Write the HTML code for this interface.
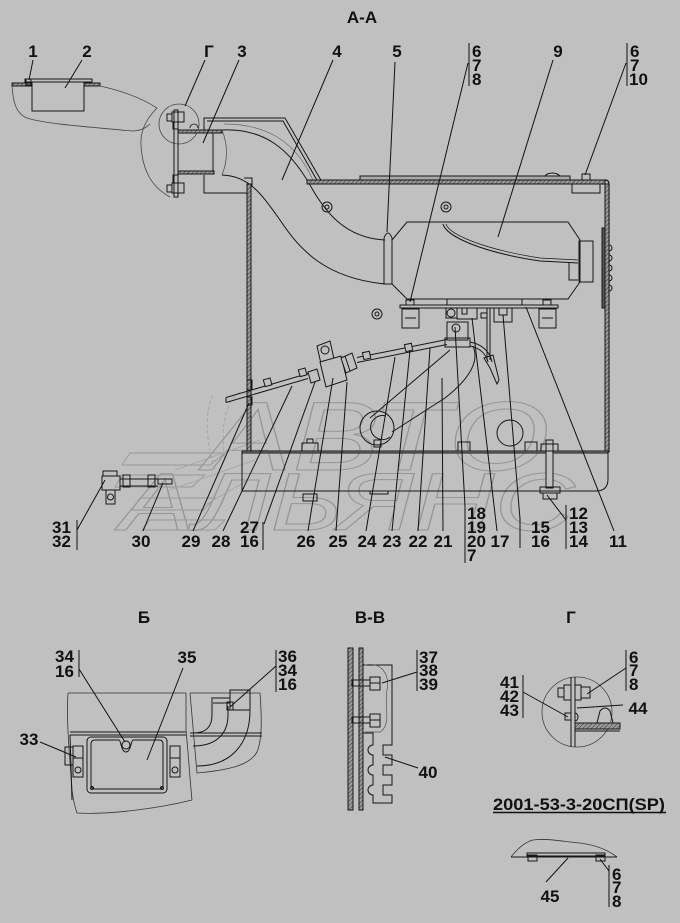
<!DOCTYPE html>
<html><head><meta charset="utf-8"><style>
html,body{margin:0;padding:0;background:#c0c0c0;}
svg{display:block}
</style></head><body>
<svg width="680" height="923" viewBox="0 0 680 923" xmlns="http://www.w3.org/2000/svg">
<defs>
<pattern id="h" width="3" height="3" patternUnits="userSpaceOnUse" patternTransform="rotate(45)"><rect width="3" height="3" fill="#9a9a9a"/><line x1="0" y1="0" x2="0" y2="3" stroke="#333" stroke-width="1"/></pattern>
</defs>
<rect width="680" height="923" fill="#c0c0c0"/>

<!-- watermark -->
<g fill="none" stroke="#959595" stroke-width="1" font-family="Liberation Sans, Arial, sans-serif" font-style="italic">
<text x="205" y="470" font-size="98" textLength="345" lengthAdjust="spacingAndGlyphs">АВТО</text>
<text x="120" y="530" font-size="82" textLength="455" lengthAdjust="spacingAndGlyphs">АЛЬЯНС</text>
</g>
<g fill="none" stroke="#999" stroke-width="0.9">
<path d="M130,453 H225 L210,465 H122 Z"/>
<path d="M122,475 H205 L192,487 H115 Z"/>
<path d="M140,498 H215 L203,510 H132 Z"/>
<path d="M150,520 H225 L215,530 H142 Z"/>
<path d="M175,470 L260,440 M170,490 L255,460 M205,505 L248,480" stroke="#a5a5a5"/>
<path d="M213,395 C205,410 205,440 215,470 M240,392 C225,400 220,430 225,460" stroke="#a5a5a5" stroke-dasharray="4,2"/>
</g>

<!-- ===== MAIN VIEW A-A ===== -->
<g fill="none" stroke="#161616" stroke-width="1">
<!-- top-left roof part 1/2 -->
<rect x="12" y="83" width="20" height="3" fill="url(#h)"/>
<rect x="84" y="83" width="16" height="3" fill="url(#h)"/>
<rect x="25" y="79" width="67" height="3"/>
<rect x="32" y="82" width="52" height="29"/>
<rect x="26" y="79" width="5" height="6"/>
<path d="M12,86 C13,100 15,113 27,118 C45,124 90,127 132,131 C140,131 146,128 150,124" stroke="#444" stroke-width="0.8"/>
<path d="M100,86 C118,90 140,97 157,108" stroke="#444" stroke-width="0.8"/>
<path d="M157,108 C147,118 140,130 141,145 C142,165 148,185 170,197" stroke="#444" stroke-width="0.8"/>
<circle cx="179" cy="124" r="20" stroke="#444" stroke-width="0.8"/>

<!-- flange -->
<rect x="174" y="110" width="4" height="87"/>
<rect x="167" y="114" width="5" height="7"/>
<rect x="172" y="112" width="12" height="10"/>
<rect x="173" y="122" width="5" height="7"/>
<rect x="173" y="175" width="5" height="8"/>
<rect x="172" y="183" width="12" height="10"/>
<rect x="167" y="185" width="5" height="7"/>
<path d="M190,128 a4,4 0 0 1 8,0" stroke-width="0.8"/>

<!-- pipe 3 -->
<rect x="178" y="130" width="44" height="3" fill="url(#h)"/>
<rect x="178" y="171" width="36" height="3" fill="url(#h)"/>
<line x1="213" y1="133" x2="213" y2="172"/>
<path d="M222,130 C228,145 228,160 222,175" stroke="#555" stroke-width="0.8"/>

<!-- heat shield -->
<path d="M204,130 V118 H285 L322,182"/>
<path d="M207,121 H283 L318,182"/>
<path d="M224,124 C265,124 295,140 313,180" stroke="#666" stroke-width="0.7"/>
<path d="M204,175 V193 H248"/>

<!-- duct 4 -->
<path d="M222,130 C265,128 290,150 310,185 C325,212 345,238 385,240"/>
<path d="M222,175 C250,176 262,195 280,220 C300,250 325,278 385,284"/>

<!-- tank walls -->
<rect x="247" y="184" width="4" height="268" fill="url(#h)"/>
<path d="M244,178 H252 V186"/>
<rect x="307" y="180" width="298" height="4" fill="url(#h)"/>
<path d="M605,180 Q609,180 609,184 V452" stroke-width="1.2"/>
<rect x="605" y="184" width="4" height="268" fill="url(#h)"/>
<rect x="360" y="176" width="210" height="4" fill="#aaa"/>
<path d="M545,176 C548,172 556,172 560,176"/>
<rect x="582" y="174" width="8" height="6"/>
<rect x="572" y="184" width="28" height="9"/>
<rect x="602" y="228" width="3" height="80" fill="#555"/>
<path d="M609,245 a3,3 0 0 1 0,6 M609,255 a3,3 0 0 1 0,6 M609,265 a3,3 0 0 1 0,6 M609,275 a3,3 0 0 1 0,6 M609,285 a3,3 0 0 1 0,6"/>

<!-- bolt circles -->
<circle cx="327" cy="207" r="5"/><circle cx="327" cy="207" r="2"/>
<circle cx="446" cy="207" r="5"/><circle cx="446" cy="207" r="2"/>
<circle cx="377" cy="314" r="5"/><circle cx="377" cy="314" r="2"/>

<!-- clamp 5 -->
<path d="M384,284 V238 Q388,228 392,238 V284 Z"/>

<!-- heater 9 -->
<path d="M392,240 L407,222 H568 L580,240 V282 L568,299 H407 L392,284"/>
<rect x="579" y="241" width="14" height="41"/>
<path d="M569,262 V280 H578"/>
<path d="M443,224 C446,236 480,252 540,261 L578,263"/>
<path d="M446,224 C449,234 482,249 540,258 L578,260" stroke-width="0.7"/>
<line x1="447" y1="299" x2="447" y2="305"/><line x1="522" y1="299" x2="522" y2="305"/>

<!-- mount plate & feet -->
<rect x="400" y="305" width="158" height="3"/>
<rect x="406" y="300" width="8" height="5"/>
<rect x="543" y="300" width="8" height="5"/>
<rect x="402" y="309" width="17" height="19"/><line x1="405" y1="318" x2="416" y2="318"/>
<rect x="539" y="309" width="17" height="19"/><line x1="542" y1="318" x2="553" y2="318"/>

<!-- bracket under plate -->
<rect x="446" y="308" width="11" height="10"/><circle cx="451" cy="313" r="4"/>
<rect x="457" y="308" width="20" height="11"/>
<rect x="462" y="308" width="5" height="6"/>
<rect x="481" y="313" width="6" height="5"/>
<line x1="487" y1="308" x2="487" y2="360"/><line x1="490" y1="308" x2="490" y2="360"/>
<rect x="494" y="308" width="18" height="14"/>
<rect x="499" y="308" width="8" height="7"/>
<polygon points="484,358 493,355 499,380 497,384 490,368"/>

<!-- regulator bracket block -->
<rect x="447" y="322" width="21" height="18"/>
<circle cx="456" cy="328" r="4"/>
<rect x="445" y="338" width="25" height="9"/>

<!-- hose -->
<line x1="226" y1="397.5" x2="308" y2="373.5"/>
<line x1="226" y1="402.5" x2="308" y2="378.5"/>
<line x1="226" y1="397.5" x2="226" y2="402.5"/>
<line x1="357" y1="357.5" x2="447" y2="339.5"/>
<line x1="357" y1="362.5" x2="447" y2="344.5"/>
<g fill="#c0c0c0">
<rect x="264" y="379" width="7" height="7" transform="rotate(-16 267 382)"/>
<rect x="299" y="369" width="7" height="7" transform="rotate(-16 302 372)"/>
<rect x="363" y="352" width="7" height="7" transform="rotate(-12 366 355)"/>
<rect x="405" y="344" width="7" height="7" transform="rotate(-12 408 347)"/>
</g>
<rect x="247" y="380" width="5" height="10"/>
<rect x="247" y="397" width="5" height="8"/>

<!-- regulator -->
<polygon points="308,372 317,369 320,380 311,383" fill="#c0c0c0"/>
<polygon points="317,346 330,341 339,381 326,386" fill="#c0c0c0"/>
<circle cx="325" cy="350" r="4"/>
<polygon points="320,362 341,356 347,380 326,387" fill="#c0c0c0"/>
<polygon points="341,358 352,353 357,368 346,373" fill="#c0c0c0"/>
<line x1="345" y1="356" x2="350" y2="371"/>

<!-- sensor hose right -->
<path d="M470,342 C482,344 490,352 492,362"/>
<path d="M470,346 C480,348 486,354 488,362"/>

<!-- loop pipe 21 -->
<path d="M450,350 L370,418"/>
<path d="M473,346 C480,362 468,380 445,398 L392,432"/>
<circle cx="377" cy="428" r="17"/>
<path d="M386,416 A12,12 0 1 0 390,437"/>
<rect x="374" y="440" width="7" height="7"/>
<circle cx="510" cy="433" r="13"/>

<!-- tank inner bottom -->
<rect x="302" y="443" width="16" height="9"/><rect x="307" y="439" width="6" height="4"/>
<rect x="458" y="442" width="12" height="10"/>
<rect x="525" y="442" width="12" height="10"/>

<!-- base -->
<rect x="242" y="451" width="366" height="2" fill="#888"/>
<path d="M242,453 V491 H596 Q608,491 608,479 V453"/>
<rect x="546" y="440" width="7" height="48" fill="#c0c0c0"/>
<rect x="541" y="444" width="17" height="7"/>
<rect x="540" y="487" width="20" height="6"/>
<rect x="543" y="493" width="14" height="6"/>
<rect x="303" y="494" width="14" height="7"/>
<rect x="370" y="491" width="18" height="3"/>

<!-- left fitting 31/32 -->
<rect x="103" y="471" width="14" height="5"/>
<rect x="102" y="476" width="18" height="14"/>
<rect x="106" y="490" width="9" height="14"/>
<circle cx="110.5" cy="497" r="3"/>
<line x1="120" y1="479" x2="158" y2="479"/>
<line x1="120" y1="486" x2="158" y2="486"/>
<rect x="123" y="475" width="7" height="12"/>
<rect x="148" y="475" width="7" height="12"/>
<rect x="158" y="479" width="14" height="5"/>
</g>

<!-- leaders main -->
<g stroke="#111" stroke-width="1" fill="none">
<line x1="33" y1="60" x2="29" y2="80"/>
<line x1="82" y1="60" x2="65" y2="88"/>
<line x1="205" y1="60" x2="185" y2="106"/>
<line x1="239" y1="60" x2="203" y2="143"/>
<line x1="333" y1="60" x2="282" y2="180"/>
<line x1="395" y1="62" x2="387" y2="232"/>
<line x1="469" y1="43" x2="469" y2="86"/>
<line x1="468" y1="63" x2="410" y2="302"/>
<line x1="553" y1="60" x2="498" y2="237"/>
<line x1="627" y1="43" x2="627" y2="86"/>
<line x1="626" y1="63" x2="585" y2="175"/>

<line x1="77" y1="520" x2="77" y2="550"/>
<line x1="77" y1="530" x2="105" y2="480"/>
<line x1="143" y1="531" x2="163" y2="483"/>
<line x1="193" y1="531" x2="249" y2="403"/>
<line x1="223" y1="531" x2="292" y2="386"/>
<line x1="263" y1="522" x2="263" y2="550"/>
<line x1="264" y1="524" x2="315" y2="382"/>
<line x1="308" y1="531" x2="333" y2="378"/>
<line x1="336" y1="531" x2="347" y2="382"/>
<line x1="366" y1="531" x2="395" y2="357"/>
<line x1="392" y1="531" x2="410" y2="350"/>
<line x1="418" y1="531" x2="430" y2="348"/>
<line x1="443" y1="531" x2="442" y2="378"/>
<line x1="465" y1="505" x2="465" y2="563"/>
<line x1="465" y1="506" x2="455" y2="327"/>
<line x1="497" y1="531" x2="472" y2="318"/>
<line x1="520" y1="517" x2="520" y2="548"/>
<line x1="520" y1="519" x2="503" y2="315"/>
<line x1="566" y1="505" x2="566" y2="549"/>
<line x1="566" y1="520" x2="547" y2="495"/>
<line x1="614" y1="531" x2="526" y2="307"/>
</g>

<!-- ===== VIEW Б ===== -->
<g fill="none" stroke="#161616" stroke-width="1">
<path d="M68,693 H186 M68,693 C66,720 70,760 72,790 C74,805 77,813 77,813 C110,815 160,808 192,800 M186,693 V730 C188,750 190,780 192,800" stroke="#333" stroke-width="0.8"/>
<path d="M190,693 H260 C262,720 262,740 257,752 C250,765 230,770 197,773 L190,693" stroke="#333" stroke-width="0.8"/>
<line x1="70" y1="732" x2="186" y2="732"/><line x1="70" y1="735" x2="186" y2="735"/>
<line x1="190" y1="733" x2="262" y2="733"/><line x1="190" y1="736" x2="262" y2="736"/>
<line x1="70" y1="735" x2="72" y2="800"/>
<rect x="87" y="737" width="80" height="56" rx="4"/>
<path d="M95,740 H119 C121,740 121,752 126,752 C131,752 131,740 133,740 H159 Q163,740 163,744 V785 Q163,789 159,789 H95 Q91,789 91,785 V744 Q91,740 95,740 Z"/>
<circle cx="126" cy="745" r="4"/>
<circle cx="92" cy="788" r="1.5"/><circle cx="162" cy="788" r="1.5"/>
<rect x="65" y="747" width="8" height="18"/>
<rect x="73" y="746" width="10" height="12"/>
<rect x="73" y="758" width="10" height="19"/><circle cx="78" cy="770" r="3"/>
<rect x="170" y="746" width="10" height="12"/>
<rect x="170" y="758" width="10" height="19"/><circle cx="175" cy="770" r="3"/>
<path d="M193,733 C205,733 212,728 212,715 V697"/>
<path d="M193,746 C215,746 228,735 228,715 V706"/>
<path d="M197,766 C230,766 250,745 250,710"/>
<line x1="213" y1="698" x2="230" y2="698"/><line x1="213" y1="703" x2="230" y2="703"/>
<rect x="230" y="690" width="20" height="20"/>
<rect x="227" y="702" width="6" height="8"/>
</g>
<g stroke="#111" stroke-width="1">
<line x1="79" y1="650" x2="79" y2="677"/>
<line x1="79" y1="669" x2="125" y2="742"/>
<line x1="183" y1="668" x2="147" y2="760"/>
<line x1="40" y1="742" x2="76" y2="757"/>
<line x1="276" y1="650" x2="276" y2="692"/>
<line x1="276" y1="666" x2="230" y2="707"/>
</g>

<!-- ===== VIEW В-В ===== -->
<g fill="none" stroke="#161616" stroke-width="1">
<rect x="348" y="648" width="5" height="162" fill="url(#h)"/>
<rect x="359" y="648" width="4" height="162" fill="url(#h)"/>
<path d="M363,665 H392 V745 H383 V755 H392 V765 H383 V775 H392 V785 H383 V795 H392 V803 H373 V795 A5,5 0 1 1 373,785 V775 A5,5 0 1 1 373,765 V755 A5,5 0 1 1 373,745 V733 H363"/>
<path d="M365,665 C380,662 390,672 387,690 C384,705 392,725 380,732 L365,732" stroke="#555" stroke-width="0.7"/>
<rect x="352" y="680" width="18" height="6"/>
<rect x="370" y="677" width="10" height="13"/>
<line x1="370" y1="683" x2="380" y2="683"/>
<rect x="352" y="717" width="18" height="6"/>
<rect x="370" y="714" width="10" height="13"/>
<line x1="370" y1="720" x2="380" y2="720"/>
</g>
<g stroke="#111" stroke-width="1">
<line x1="417" y1="650" x2="417" y2="691"/>
<line x1="417" y1="672" x2="382" y2="683"/>
<line x1="418" y1="768" x2="385" y2="757"/>
</g>

<!-- ===== DETAIL Г ===== -->
<g fill="none" stroke="#161616" stroke-width="1">
<circle cx="577" cy="712" r="35" stroke="#444" stroke-width="0.8"/>
<line x1="571" y1="677" x2="571" y2="747"/>
<line x1="575" y1="677" x2="575" y2="747"/>
<rect x="575" y="723" width="45" height="6" fill="url(#h)"/>
<line x1="575" y1="731" x2="620" y2="731"/>
<rect x="558" y="688" width="6" height="9"/>
<rect x="564" y="685" width="7" height="15"/>
<rect x="575" y="685" width="6" height="15"/>
<rect x="581" y="687" width="9" height="11"/>
<rect x="565" y="713" width="6" height="7"/>
<path d="M575,713 a3,4 0 0 1 0,8"/>
<path d="M597,723 L600,711 Q605,705 610,711 L613,723"/>
</g>
<g stroke="#111" stroke-width="1">
<line x1="626" y1="650" x2="626" y2="691"/>
<line x1="626" y1="668" x2="587" y2="694"/>
<line x1="523" y1="675" x2="523" y2="718"/>
<line x1="523" y1="692" x2="568" y2="717"/>
<line x1="623" y1="705" x2="577" y2="708"/>
</g>

<!-- ===== PART 45 ===== -->
<g fill="none" stroke="#161616" stroke-width="1">
<path d="M511,857 C518,848 525,842 533,840 C550,838 565,842 580,843 C595,845 608,850 617,857" stroke="#333" stroke-width="0.8"/>
<line x1="511" y1="857" x2="617" y2="857"/>
<rect x="527" y="853" width="78" height="3"/>
<rect x="528" y="855" width="9" height="6"/>
<rect x="596" y="855" width="9" height="6"/>
</g>
<g stroke="#111" stroke-width="1">
<line x1="546" y1="882" x2="568" y2="858"/>
<line x1="609" y1="865" x2="609" y2="907"/>
<line x1="609" y1="871" x2="600" y2="859"/>
</g>
<line x1="493" y1="812.5" x2="666" y2="812.5" stroke="#111" stroke-width="1.5"/>

<!-- ===== TEXT ===== -->
<g font-family="Liberation Sans, Arial, sans-serif" font-weight="bold" font-size="17" fill="#111">
<text x="362" y="23" text-anchor="middle">А-А</text>
<text x="33" y="57" text-anchor="middle">1</text>
<text x="87" y="57" text-anchor="middle">2</text>
<text x="209" y="57" text-anchor="middle">Г</text>
<text x="242" y="57" text-anchor="middle">3</text>
<text x="337" y="57" text-anchor="middle">4</text>
<text x="397" y="57" text-anchor="middle">5</text>
<text x="472" y="57">6</text><text x="472" y="71">7</text><text x="472" y="85">8</text>
<text x="558" y="57" text-anchor="middle">9</text>
<text x="630" y="57">6</text><text x="630" y="71">7</text><text x="629" y="85">10</text>

<text x="52" y="533">31</text><text x="52" y="547">32</text>
<text x="141" y="547" text-anchor="middle">30</text>
<text x="191" y="547" text-anchor="middle">29</text>
<text x="221" y="547" text-anchor="middle">28</text>
<text x="240" y="533">27</text><text x="240" y="547">16</text>
<text x="306" y="547" text-anchor="middle">26</text>
<text x="338" y="547" text-anchor="middle">25</text>
<text x="367" y="547" text-anchor="middle">24</text>
<text x="392" y="547" text-anchor="middle">23</text>
<text x="418" y="547" text-anchor="middle">22</text>
<text x="443" y="547" text-anchor="middle">21</text>
<text x="467" y="519">18</text><text x="467" y="533">19</text><text x="467" y="547">20</text><text x="467" y="561">7</text>
<text x="500" y="547" text-anchor="middle">17</text>
<text x="531" y="533">15</text><text x="531" y="547">16</text>
<text x="569" y="519">12</text><text x="569" y="533">13</text><text x="569" y="547">14</text>
<text x="618" y="547" text-anchor="middle">11</text>

<text x="144" y="623" text-anchor="middle">Б</text>
<text x="370" y="623" text-anchor="middle">В-В</text>
<text x="571" y="623" text-anchor="middle">Г</text>

<text x="55" y="662">34</text><text x="55" y="677">16</text>
<text x="187" y="663" text-anchor="middle">35</text>
<text x="29" y="745" text-anchor="middle">33</text>
<text x="278" y="662">36</text><text x="278" y="676">34</text><text x="278" y="690">16</text>

<text x="419" y="663">37</text><text x="419" y="676">38</text><text x="419" y="690">39</text>
<text x="428" y="778" text-anchor="middle">40</text>

<text x="629" y="663">6</text><text x="629" y="676">7</text><text x="629" y="690">8</text>
<text x="500" y="688">41</text><text x="500" y="702">42</text><text x="500" y="716">43</text>
<text x="638" y="714" text-anchor="middle">44</text>

<text x="493" y="810" textLength="172" lengthAdjust="spacingAndGlyphs">2001-53-3-20СП(SP)</text>

<text x="550" y="902" text-anchor="middle">45</text>
<text x="612" y="880">6</text><text x="612" y="893">7</text><text x="612" y="907">8</text>
</g>
</svg>
</body></html>
